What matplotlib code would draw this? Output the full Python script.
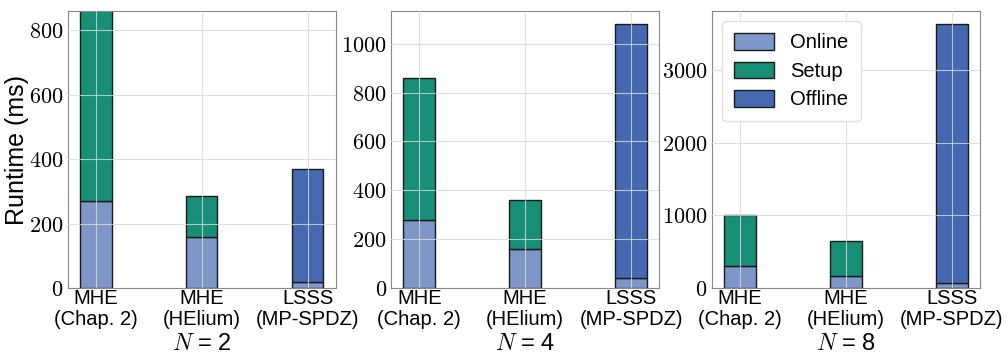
import matplotlib.pyplot as plt
import numpy as np
from matplotlib.ticker import FuncFormatter

plt.rcParams['mathtext.fontset'] = 'cm'
plt.rcParams['font.family'] = ['Liberation Sans', 'DejaVu Sans']

methods = ["MHE", "MHE", "LSSS"]
impls = ["(Chap. 2)", "(HElium)", "(MP-SPDZ)"]
parties = [2, 4, 8]

# runtimes in ms, one entry per method (Chap. 2, HElium, MP-SPDZ)
online = {2: [270, 158, 20], 4: [278, 160, 40], 8: [305, 170, 70]}
setup = {2: [680, 127, 0], 4: [582, 202, 0], 8: [695, 480, 0]}
offline = {2: [0, 0, 350], 4: [0, 0, 1040], 8: [0, 0, 3560]}
ylims = {2: 860, 4: None, 8: None}

c_online = "#7f97c8"
c_setup = "#168f76"
c_offline = "#4469b0"

fig = plt.figure(figsize=(10.08, 3.56), dpi=100)
lefts = [0.067, 0.388, 0.706]
width = 0.266
x = np.arange(len(methods))

for i, n in enumerate(parties):
    ax = fig.add_axes([lefts[i], 0.191, width, 0.778])
    on = np.array(online[n]); se = np.array(setup[n]); of = np.array(offline[n])
    kw = dict(width=0.3, edgecolor="#1a1a1a", linewidth=1.0)
    ax.bar(x, on, color=c_online, label="Online", **kw)
    ax.bar(x[:2], se[:2], bottom=on[:2], color=c_setup, label="Setup", **kw)
    ax.bar(x[2:], of[2:], bottom=on[2:], color=c_offline, label="Offline", **kw)
    if ylims[n] is not None:
        ax.set_ylim(0, ylims[n])
    else:
        ax.set_ylim(0, (on + se + of).max() * 1.05)
    ax.set_xticks(x)
    ax.set_xticklabels(methods, fontsize=14.5)
    # second line of the tick labels (implementation)
    for xi, lab in zip(x, impls):
        ax.annotate(lab, (xi, 0), xycoords=ax.get_xaxis_transform(),
                    xytext=(0, -16), textcoords="offset points",
                    ha="center", va="top", fontsize=14.5)
    ax.yaxis.set_major_formatter(FuncFormatter(lambda v, p: r"$%d$" % v))
    ax.tick_params(axis="y", labelsize=16, length=0, pad=3)
    ax.tick_params(axis="x", length=0, pad=1)
    ax.grid(True, color="#d8d8d8", linewidth=0.8, alpha=0.8)
    ax.set_axisbelow(False)
    for s in ax.spines.values():
        s.set_color("#888888")
    ax.set_xlabel(r"$N$ = %d" % n, fontsize=17)
    ax.xaxis.set_label_coords(0.5, -0.162)
    if i == 0:
        ax.set_ylabel("Runtime (ms)", fontsize=18, labelpad=0)
    if i == 2:
        ax.legend(loc="upper left", fontsize=14.5, borderpad=0.6, handlelength=2.0,
                  handleheight=0.9, labelspacing=0.45, handletextpad=0.8,
                  framealpha=1.0, edgecolor="#e0e0e0")

fig.savefig("out.png", dpi=100)
